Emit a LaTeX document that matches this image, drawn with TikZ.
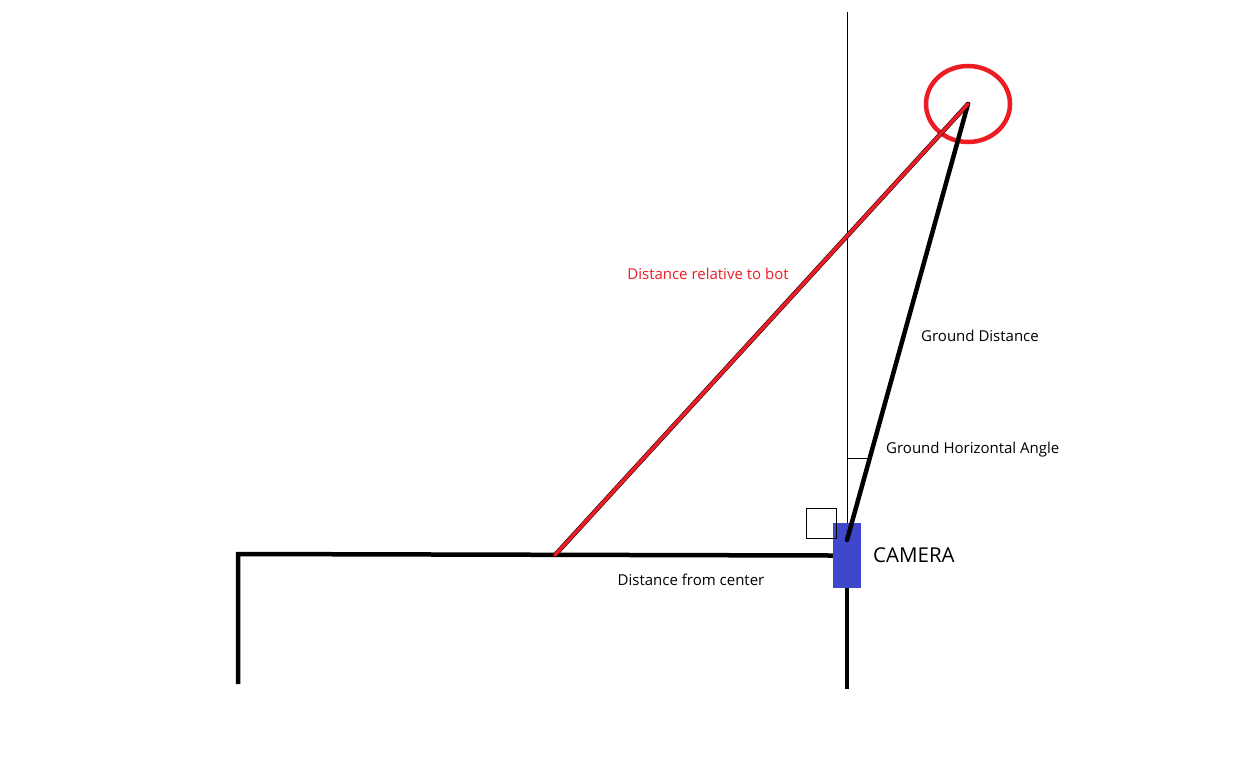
\documentclass[tikz,border=0pt]{standalone}
\usepackage{fontspec}
\setmainfont{Open Sans}
\usepackage{tikz}
\usetikzlibrary{shapes.geometric, positioning, calc}
\definecolor{paintred}{RGB}{237,28,36}
\definecolor{paintblue}{RGB}{63,72,204}

\begin{document}
\begin{tikzpicture}[
    x=1pt, y=-1pt,
    wall/.style={draw=black, line width=4.5pt},
    ray/.style={draw=paintred, line width=4.5pt, line cap=round},
    guide/.style={draw=black, line width=0.8pt},
    txt/.style={inner sep=0pt, font=\fontsize{15}{18}\selectfont},
    cam/.style={rectangle, fill=paintblue, minimum width=28pt, minimum height=65pt, inner sep=0pt},
    ring/.style={ellipse, draw=paintred, line width=4.5pt, minimum width=84pt, minimum height=76pt, inner sep=0pt}
]
    \useasboundingbox[fill=white] (0,0) rectangle (1233,756);

    % ground, camera and target
    \coordinate (corner) at (238,554);
    \coordinate (leftfoot) at (238,684);
    \coordinate (hit) at (555,555);
    \coordinate (top) at (847,12);
    \coordinate (lens) at (847,540);
    \coordinate (bot) at (968,104);
    \node (camera) [cam] at (847,555.5) {};
    \node (target) [ring] at (bot) {};
    \node (square) [draw, line width=0.8pt, minimum size=30pt, inner sep=0pt, anchor=south east] at (837,539) {};
    \coordinate (tick) at ($(lens)!0.188!(bot)$);

    \draw[guide] (top) -- (camera.north);
    \draw[guide] (tick -| top) -- (tick);
    \draw[wall] (leftfoot) -- (corner) -- (camera.west);
    \draw[wall] (camera.south) -- ++(0,101);
    \draw[wall, line cap=round] (lens) -- (bot);
    \draw[wall, line cap=round] (hit) -- (bot);
    \draw[ray, line width=3.5pt] (hit) -- (bot);

    % labels
    \node (reltxt) [txt, text=paintred] at (708,274) {Distance relative to bot};
    \node (gndtxt) [txt] at (980,336) {Ground Distance};
    \node (angtxt) [txt, anchor=west] at (886,450) {Ground Horizontal Angle};
    \node (camtxt) [txt, anchor=west, font=\fontsize{20.5}{24}\selectfont] at (873,555) {CAMERA};
    \node (ctrtxt) [txt] at (691,580) {Distance from center};
\end{tikzpicture}
\end{document}
